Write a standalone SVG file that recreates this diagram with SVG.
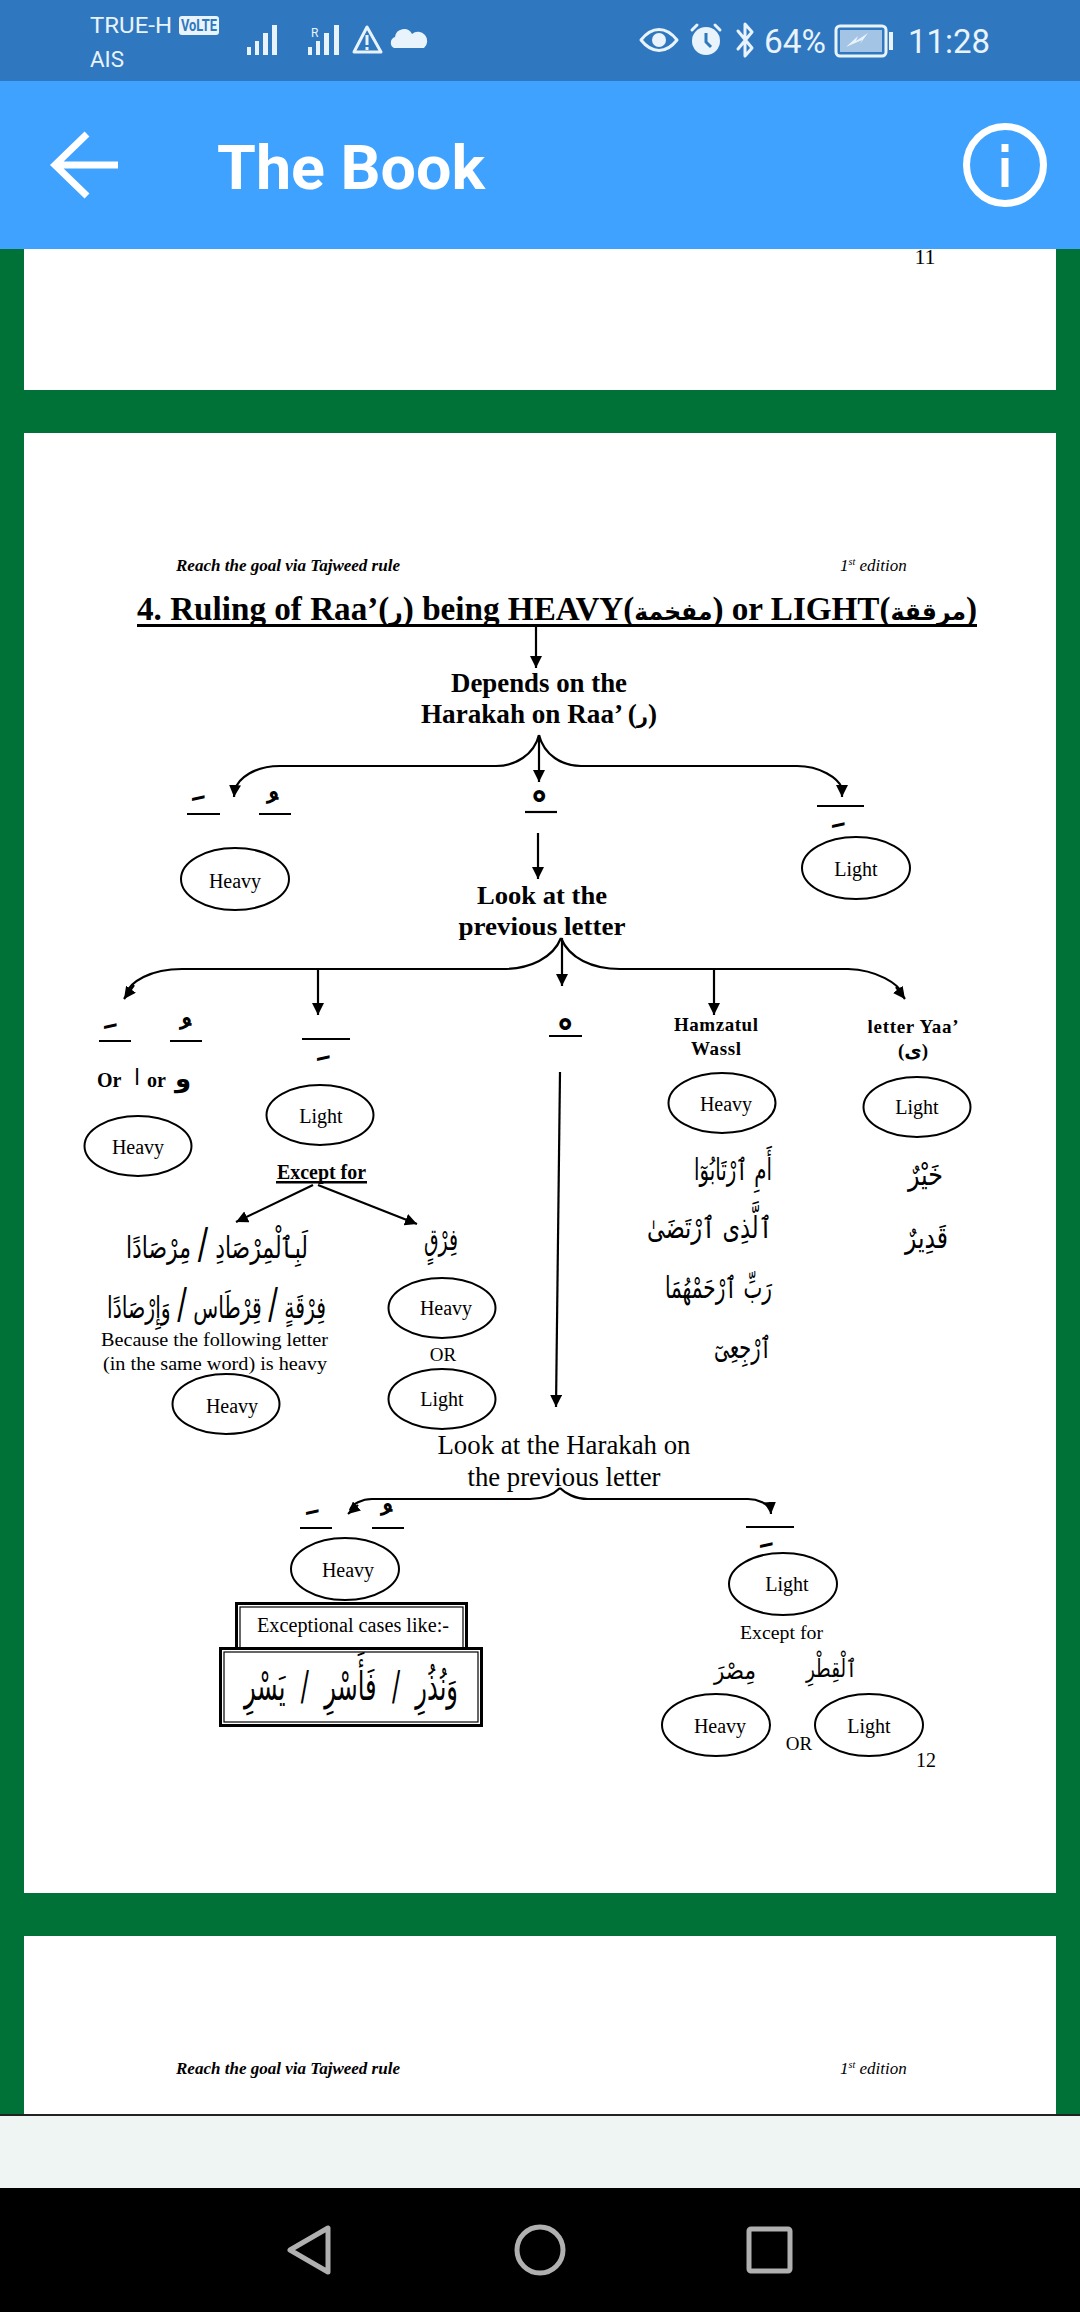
<svg xmlns="http://www.w3.org/2000/svg" width="1080" height="2312" viewBox="0 0 1080 2312">
<style>
text{fill:#000;font-family:"Liberation Serif","DejaVu Sans",serif}
.b{font-weight:bold}.m{text-anchor:middle}.e{text-anchor:end}
.t20{font-size:20px}.t18{font-size:19px}.t26{font-size:27px}.t28{font-size:28px}
.ar{font-family:"DejaVu Sans","Liberation Serif",sans-serif;font-size:30px}
.mk{font-family:"DejaVu Sans",sans-serif;font-size:44px;font-weight:bold;text-anchor:middle}
.ui{font-family:Roboto,"Noto Sans",sans-serif;fill:#e9f3fb}
.el{fill:#fff;stroke:#000;stroke-width:2}
.ln{fill:none;stroke:#000;stroke-width:2.2}
.ul{stroke:#000;stroke-width:2.2}
.ar1{fill:none;stroke:#000;stroke-width:2.2;marker-end:url(#ah)}
.ic{fill:none;stroke:#e9f3fb;stroke-width:3;stroke-linecap:round;stroke-linejoin:round}
.if{fill:#e9f3fb}
.nav{fill:none;stroke:#b0b0b0;stroke-width:5;stroke-linejoin:round}
</style>
<defs>
<marker id="ah" markerUnits="userSpaceOnUse" markerWidth="13" markerHeight="12" refX="12" refY="6" orient="auto"><path d="M0 0L12 6L0 12Z" fill="#000"/></marker>
</defs>
<rect width="1080" height="2312" fill="#017237"/>
<g id="page1"><rect x="24" y="249" width="1032" height="141" fill="#fff"/><text x="925" y="264" class="m" font-size="22">11</text></g>
<g id="page2">
<rect x="24" y="433" width="1032" height="1460" fill="#fff"/>
<text x="176" y="571" class="b" font-size="17" font-style="italic" textLength="224" lengthAdjust="spacingAndGlyphs">Reach the goal via Tajweed rule</text>
<text x="840" y="571" font-size="17" font-style="italic">1<tspan font-size="10" dy="-6">st</tspan><tspan dy="6"> edition</tspan></text>
<text x="936" y="1767" class="e" font-size="20">12</text>
</g>
<g id="page3">
<rect x="24" y="1936" width="1032" height="179" fill="#fff"/>
<text x="176" y="2074" class="b" font-size="17" font-style="italic" textLength="224" lengthAdjust="spacingAndGlyphs">Reach the goal via Tajweed rule</text>
<text x="840" y="2074" font-size="17" font-style="italic">1<tspan font-size="10" dy="-6">st</tspan><tspan dy="6"> edition</tspan></text>
</g>
<g id="connectors">
<path class="ar1" d="M536 625V668"/>
<path class="ln" d="M539 735C534 755 515 766 496 766H280C255 766 238 778 235 790"/>
<path class="ar1" d="M235 785L234 797"/>
<path class="ln" d="M539 735C544 755 562 766 581 766H797C820 766 838 778 842 788"/>
<path class="ar1" d="M842 785L842 797"/>
<path class="ar1" d="M539 735V782"/>
<path class="ar1" d="M538 833V879"/>
<path class="ln" d="M561 938C553 958 530 969 503 969H182C150 969 130 982 126 994"/>
<path class="ar1" d="M134 985L124 999"/>
<path class="ln" d="M561 938C569 958 592 969 620 969H848C878 970 898 984 903 994"/>
<path class="ar1" d="M896 987L905 999"/>
<path class="ar1" d="M562 938V986"/>
<path class="ar1" d="M318 969V1015"/>
<path class="ar1" d="M714 969V1015"/>
<path class="ar1" d="M313 1185L236 1222"/>
<path class="ar1" d="M318 1185L417 1224"/>
<path class="ar1" d="M560 1072L556 1407"/>
<path class="ln" d="M560 1488C555 1493 545 1499 530 1499H372C362 1499 352 1504 350 1510"/>
<path class="ar1" d="M358 1505L348 1514"/>
<path class="ln" d="M560 1488C565 1493 575 1499 588 1499H748C758 1499 768 1504 771 1510"/>
<path class="ar1" d="M770 1502L771 1514"/>
</g>
<g id="title"><text x="137" y="620" class="b" font-size="34" textLength="840" lengthAdjust="spacingAndGlyphs">4. Ruling of Raa’(<tspan font-size="24">ر</tspan>) being HEAVY(<tspan font-size="24">مفخمة</tspan>) or LIGHT(<tspan font-size="24">مرققة</tspan>)</text><rect x="137" y="624" width="840" height="3"/></g>
<g id="depends"><text x="539" y="692" class="b m t28" textLength="176" lengthAdjust="spacingAndGlyphs">Depends on the</text><text x="539" y="723" class="b m t28" textLength="236" lengthAdjust="spacingAndGlyphs">Harakah on Raa’ (<tspan font-size="20">ر</tspan>)</text></g>
<g id="h1-marks"><path class="ul" d="M187 814H220M259 814H291"/><text x="195" y="827" class="mk">&#160;&#x64E;</text><text x="269" y="830" class="mk">&#160;&#x64F;</text></g>
<g id="h1-sukoon"><path class="ul" d="M525 812H557"/><text x="536" y="829" class="mk">&#160;&#x652;</text></g>
<g id="h1-kasra"><path class="ul" d="M817 806H864"/><text x="835" y="822" class="mk">&#160;&#x650;</text></g>
<g id="n-heavy-1"><ellipse class="el" cx="235" cy="879" rx="54" ry="31"/><text x="235" y="888" class="m t20">Heavy</text></g>
<g id="n-light-1"><ellipse class="el" cx="856" cy="868" rx="54" ry="31"/><text x="856" y="876" class="m t20">Light</text></g>
<g id="look"><text x="542" y="904" class="b m" font-size="26" textLength="130" lengthAdjust="spacingAndGlyphs">Look at the</text><text x="542" y="935" class="b m" font-size="26" textLength="167" lengthAdjust="spacingAndGlyphs">previous letter</text></g>
<g id="h2-marks"><path class="ul" d="M99 1041H131M170 1041H202"/><text x="107" y="1055" class="mk">&#160;&#x64E;</text><text x="182" y="1056" class="mk">&#160;&#x64F;</text></g>
<g id="h2-kasra"><path class="ul" d="M302 1039H350"/><text x="320" y="1055" class="mk">&#160;&#x650;</text></g>
<g id="h2-sukoon"><path class="ul" d="M549 1036H582"/><text x="562" y="1057" class="mk">&#160;&#x652;</text></g>
<g id="or-line"><text x="97" y="1087" class="b t20">Or</text><text x="137" y="1085" class="m ar" style="font-size:22px">ا</text><text x="147" y="1087" class="b t20">or</text><text x="183" y="1087" class="m ar b" style="font-size:26px">و</text></g>
<g id="n-heavy-2"><ellipse class="el" cx="138" cy="1146" rx="53.5" ry="30"/><text x="138" y="1154" class="m t20">Heavy</text></g>
<g id="n-light-2"><ellipse class="el" cx="320" cy="1115" rx="53.5" ry="30"/><text x="321" y="1123" class="m t20">Light</text></g>
<g id="except"><text x="277" y="1179" class="b t20" textLength="89" lengthAdjust="spacingAndGlyphs">Except for</text><rect x="276" y="1181" width="91" height="2.5"/></g>
<g id="ex-arabic-1"><text x="126" y="1258" class="ar" textLength="182" lengthAdjust="spacingAndGlyphs">لَبِٱلْمِرْصَادِ <tspan font-size="42">/</tspan> مِرْصَادًا</text></g>
<g id="ex-arabic-2"><text x="107" y="1318" class="ar" textLength="219" lengthAdjust="spacingAndGlyphs">فِرْقَةٍ <tspan font-size="42">/</tspan> قِرْطَاس <tspan font-size="42">/</tspan> وَإِرْصَادًا</text></g>
<g id="because"><text x="101" y="1346" class="t18" textLength="227" lengthAdjust="spacingAndGlyphs">Because the following letter</text><text x="103" y="1370" class="t18" textLength="224" lengthAdjust="spacingAndGlyphs">(in the same word) is heavy</text></g>
<g id="n-heavy-3"><ellipse class="el" cx="226" cy="1404" rx="53.5" ry="30"/><text x="232" y="1413" class="m t20">Heavy</text></g>
<g id="firq"><text x="441" y="1250" class="m ar" textLength="34" lengthAdjust="spacingAndGlyphs">فِرْقٍ</text></g>
<g id="n-heavy-4"><ellipse class="el" cx="442" cy="1308" rx="53.5" ry="30"/><text x="446" y="1315" class="m t20">Heavy</text></g>
<g id="or-1"><text x="443" y="1361" class="m t18">OR</text></g>
<g id="n-light-4"><ellipse class="el" cx="442" cy="1399" rx="53.5" ry="30"/><text x="442" y="1406" class="m t20">Light</text></g>
<g id="hamzatul"><text x="716" y="1031" class="b m t18" textLength="84" lengthAdjust="spacing">Hamzatul</text><text x="716" y="1055" class="b m t18" textLength="50" lengthAdjust="spacing">Wassl</text></g>
<g id="yaa"><text x="913" y="1033" class="b m t18" textLength="91" lengthAdjust="spacing">letter Yaa’</text><text x="913" y="1057" class="b m t18">(ى)</text></g>
<g id="n-heavy-5"><ellipse class="el" cx="722" cy="1103" rx="53.5" ry="30"/><text x="726" y="1111" class="m t20">Heavy</text></g>
<g id="n-light-5"><ellipse class="el" cx="917" cy="1107" rx="53.5" ry="30"/><text x="917" y="1114" class="m t20">Light</text></g>
<g id="hamz-ar"><text x="694" y="1180" class="ar" textLength="78" lengthAdjust="spacingAndGlyphs">أَمِ ٱرْتَابُوٓا</text><text x="647" y="1238" class="ar" textLength="125" lengthAdjust="spacingAndGlyphs">ٱلَّذِى ٱرْتَضَىٰ</text><text x="665" y="1298" class="ar" textLength="107" lengthAdjust="spacingAndGlyphs">رَبِّ ٱرْحَمْهُمَا</text><text x="714" y="1358" class="ar" textLength="58" lengthAdjust="spacingAndGlyphs">ٱرْجِعِىٓ</text></g>
<g id="yaa-ar"><text x="908" y="1185" class="ar" textLength="35" lengthAdjust="spacingAndGlyphs">خَيْرٌ</text><text x="905" y="1248" class="ar" textLength="43" lengthAdjust="spacingAndGlyphs">قَدِيرٌ</text></g>
<g id="look2"><text x="564" y="1454" class="m t26" textLength="253" lengthAdjust="spacingAndGlyphs">Look at the Harakah on</text><text x="564" y="1486" class="m t26" textLength="193" lengthAdjust="spacingAndGlyphs">the previous letter</text></g>
<g id="h3-marks"><path class="ul" d="M300 1528H332M372 1528H404"/><text x="309" y="1541" class="mk">&#160;&#x64E;</text><text x="383" y="1542" class="mk">&#160;&#x64F;</text></g>
<g id="h3-kasra"><path class="ul" d="M746 1527H794"/><text x="763" y="1542" class="mk">&#160;&#x650;</text></g>
<g id="n-heavy-6"><ellipse class="el" cx="345" cy="1569" rx="54" ry="31"/><text x="348" y="1577" class="m t20">Heavy</text></g>
<g id="box-cases"><rect x="236.500" y="1603.500" width="230" height="46" fill="#fff" stroke="#000" stroke-width="3"/><rect x="240" y="1607" width="223" height="42" fill="none" stroke="#000" stroke-width="1.200"/><text x="257" y="1632" class="t20" textLength="192" lengthAdjust="spacingAndGlyphs">Exceptional cases like:-</text></g>
<g id="box-words"><rect x="220.500" y="1648.500" width="261" height="77" fill="#fff" stroke="#000" stroke-width="3"/><rect x="224" y="1652" width="254" height="70" fill="none" stroke="#000" stroke-width="1.200"/><text x="244" y="1700" class="ar" style="font-size:40px" textLength="214" lengthAdjust="spacingAndGlyphs">وَنُذُرِ&#160;&#160;/&#160;&#160;فَأَسْرِ&#160;&#160;/&#160;&#160;يَسْرِ</text></g>
<g id="n-light-6"><ellipse class="el" cx="783" cy="1584" rx="54" ry="31"/><text x="787" y="1591" class="m t20">Light</text></g>
<g id="except2"><text x="740" y="1639" class="t18" textLength="83" lengthAdjust="spacingAndGlyphs">Except for</text></g>
<g id="words3"><text x="714" y="1679" class="ar" style="font-size:25px" textLength="42" lengthAdjust="spacingAndGlyphs">مِصْرَ</text><text x="806" y="1677" class="ar" style="font-size:25px" textLength="51" lengthAdjust="spacingAndGlyphs">ٱلْقِطْرِ</text></g>
<g id="n-heavy-7"><ellipse class="el" cx="716" cy="1725" rx="54" ry="31"/><text x="720" y="1733" class="m t20">Heavy</text></g>
<g id="or-2"><text x="799" y="1750" class="m t18">OR</text></g>
<g id="n-light-7"><ellipse class="el" cx="869" cy="1725" rx="54" ry="31"/><text x="869" y="1733" class="m t20">Light</text></g>
<g id="statusbar">
<rect width="1080" height="81" fill="#2f78c0"/>
<text x="90" y="33" class="ui" font-size="22" textLength="82" lengthAdjust="spacingAndGlyphs">TRUE-H</text>
<text x="90" y="67" class="ui" font-size="22" textLength="34" lengthAdjust="spacingAndGlyphs">AIS</text>
<rect x="179" y="16" width="40" height="19" rx="3" fill="#e9f3fb"/>
<text x="199" y="31" class="m" font-size="16" font-weight="bold" style="fill:#2f78c0;font-family:Roboto,sans-serif" textLength="36" lengthAdjust="spacingAndGlyphs">VoLTE</text>
<path class="if" d="M247 47h4v8h-4zM255 41h4v14h-4zM263 33h5v22h-5zM272 25h5v30h-5z"/>
<path class="if" d="M308 47h4v8h-4zM316 41h4v14h-4zM324 33h5v22h-5zM334 25h5v30h-5z"/>
<text x="311" y="37" class="ui" font-size="12">R</text>
<path class="ic" d="M367 27L354 52H381Z"/><path class="if" d="M365.500 35h3v10h-3zM365.500 47h3v3h-3z"/>
<path class="if" d="M394 48a6 6 0 0 1 1-11a9 9 0 0 1 17-3a8 8 0 0 1 12 14Z"/>
<path class="ic" d="M641 40C652 26 666 26 677 40C666 54 652 54 641 40Z" stroke-width="4"/><circle class="if" cx="659" cy="40" r="7"/>
<circle class="if" cx="706" cy="41" r="14"/><path d="M706 33V42L711 47" fill="none" stroke="#2f78c0" stroke-width="3"/><path class="ic" d="M692 30L697 25M720 30L715 25"/>
<path class="ic" d="M738 31L752 48L745 56V24L752 32L738 49"/>
<text x="764" y="53" class="ui" font-size="34" textLength="62" lengthAdjust="spacingAndGlyphs">64%</text>
<rect class="ic" x="836" y="26" width="50" height="30" rx="4"/><rect x="840" y="30" width="42" height="22" fill="#a3c4e4"/><path class="if" d="M846 47L858 36L856 41L868 33L860 44L862 40Z"/><rect class="if" x="889" y="32" width="4" height="18"/>
<text x="908" y="53" class="ui" font-size="34" textLength="82" lengthAdjust="spacingAndGlyphs">11:28</text>
</g>
<g id="appbar">
<rect y="81" width="1080" height="168" fill="#3fa2ff"/>
<path d="M87 134L55 165L87 196M55 165H118" fill="none" stroke="#fff" stroke-width="7"/>
<text x="217" y="189" font-size="62" font-weight="bold" style="fill:#fff;font-family:Roboto,sans-serif" textLength="268" lengthAdjust="spacingAndGlyphs">The Book</text>
<circle cx="1005" cy="165" r="38.500" fill="none" stroke="#fff" stroke-width="7"/>
<path fill="#fff" d="M1001.500 144h7v8h-7zM1001.500 158h7v29h-7z"/>
</g>
<g id="bottom">
<rect y="2114" width="1080" height="2" fill="#222"/>
<rect y="2116" width="1080" height="72" fill="#eff5f3"/>
<rect y="2188" width="1080" height="124" fill="#000"/>
<path class="nav" d="M328 2228V2272L290 2250Z"/>
<ellipse class="nav" cx="540" cy="2250" rx="23" ry="23"/>
<rect class="nav" x="749" y="2229" width="41" height="42" rx="2"/>
</g>
</svg>
